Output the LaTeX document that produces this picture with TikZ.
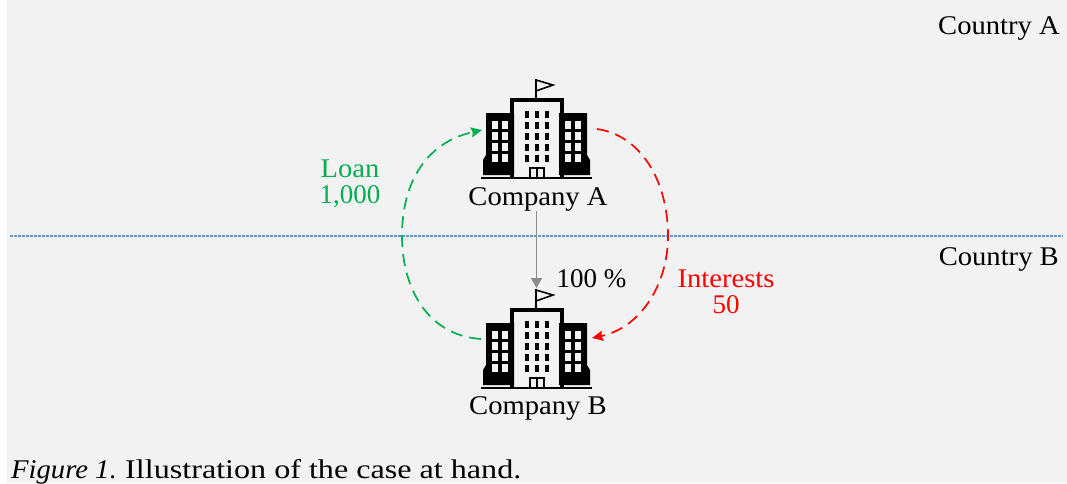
\documentclass[tikz,border=0pt]{standalone}
\usepackage{fontspec}
\setmainfont{Liberation Serif}
\newfontfamily\widefont[FakeStretch=1.06]{Liberation Serif}
\newfontfamily\capfont[FakeStretch=1.19]{Liberation Serif}
\usetikzlibrary{arrows.meta}
\definecolor{panelgray}{HTML}{F2F2F2}
\definecolor{loangreen}{HTML}{00B050}
\definecolor{bordblue}{HTML}{5B9BD5}
\begin{document}
\begin{tikzpicture}[
        x=1pt, y=-1pt,
        caption/.style={font=\fontsize{27}{26}\selectfont, inner sep=0pt, align=center},
        relation/.style={-{Stealth[length=11pt,width=10pt,inset=1.5pt]}, line width=1.7pt, dash pattern=on 12pt off 7pt},
        holding/.style={-{Triangle[length=10pt,width=11pt]}, line width=1.8pt, draw=gray!90},
        pics/tower/.style={code={
            % flag
            \draw[line width=1.6pt] (-1,-33) -- (-1,-52);
            \draw[line width=1.6pt] (-1,-51) -- (16,-46) -- (-1,-40);
            % middle block
            \draw[line width=4pt] (-25,47) -- (-25,-31) -- (25,-31) -- (25,47);
            % side blocks
            \fill (-51,-18) -- (-23,-18) -- (-23,44) -- (-54,44) -- (-54,29) -- (-51,24) -- cycle;
            \fill (50,-18) -- (22,-18) -- (22,44) -- (53,44) -- (53,29) -- (50,24) -- cycle;
            % windows
            \foreach \wx in {-42,-32,31,41}
                \foreach \wy in {-6,5,16,27}
                    \fill[panelgray] (\wx-2.7,\wy-3.7) rectangle (\wx+2.7,\wy+3.7);
            \foreach \wx in {-10,0,10}
                \foreach \wy in {-17,-6,5,16,27}
                    \fill (\wx-2.2,\wy-3.5) rectangle (\wx+2.2,\wy+3.5);
            % door and ground line
            \draw[line width=1.4pt] (-7,47) -- (-7,37) -- (7,37) -- (7,47) (0,37) -- (0,47);
            \draw[line width=1.6pt] (-56,47) -- (55,47);
        }}
    ]
        \useasboundingbox (0,0) rectangle (1067,483);
        \fill[white] (0,0) rectangle (1067,483);
        \fill[panelgray] (7,0) rectangle (1067,483);

        % Border between the countries
        \coordinate (bordleft) at (10,236);
        \coordinate (bordright) at (1063,236);
        \draw[bordblue, line width=1.5pt, dash pattern=on 3pt off 1pt] (bordleft) -- (bordright);
        \node[caption, anchor=east] (countrya) at (1060,28) {\widefont Country A};
        \node[caption, anchor=east] (countryb) at (1059,259) {\widefont Country B};

        % Companies
        \pic at (537,131) {tower};
        \pic at (537,341) {tower};
        \node[caption] (companya) at (538,199) {\widefont Company A};
        \node[caption] (companyb) at (538,408) {\widefont Company B};
        \coordinate (towera-w) at (482,130);
        \coordinate (towera-e) at (597,129);
        \coordinate (towerb-w) at (481,339);
        \coordinate (towerb-e) at (592,338);
        \coordinate (towerb-n) at (536.5,288);

        % Relationships
        \draw[holding] (companya.south -| towerb-n) -- (towerb-n);
        \draw[relation, draw=loangreen] (towerb-w) .. controls (425,335) and (402,285) .. (402,236) .. controls (402,180) and (428,142) .. (towera-w);
        \draw[relation, draw=red] (towera-e) .. controls (640,135) and (668,180) .. (668,236) .. controls (668,285) and (640,328) .. (towerb-e);

        % Labels
        \node[caption, text=loangreen] (loan) at (350,184) {{\widefont Loan}\\1,000};
        \node[caption, text=red] (interests) at (726,292) {{\widefont Interests}\\50};
        \node[caption] (share) at (591.5,279) {100 \%};
        \node[caption, anchor=west] (figcap) at (11,472) {{\widefont\textit{Figure 1}}. \capfont Illustration of the case at hand.};
    \end{tikzpicture}
\end{document}
